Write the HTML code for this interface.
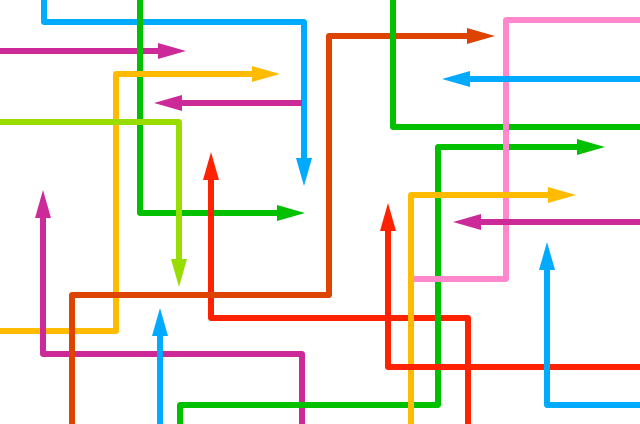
<!DOCTYPE html>
<html><head><meta charset="utf-8"><style>html,body{margin:0;padding:0;background:#fff}svg{display:block}</style></head>
<body>
<svg width="640" height="424" viewBox="0 0 640 424" xmlns="http://www.w3.org/2000/svg">
<g fill="none" stroke-width="6" stroke-linejoin="round">
<path d="M44,0 V22 H304 V158" stroke="#00aaff"/>
<path d="M0,51 H158" stroke="#cc2a99"/>
<path d="M140,0 V213 H277" stroke="#00c000"/>
<path d="M0,331 H116 V74 H252" stroke="#ffbb00"/>
<path d="M302,103 H182" stroke="#cc2a99"/>
<path d="M0,122 H179 V259" stroke="#99dd00"/>
<path d="M211,180 V318 H468 V424" stroke="#ff2200"/>
<path d="M43,218 V354 H302 V424" stroke="#cc2a99"/>
<path d="M72,424 V295 H329 V36 H467" stroke="#dd4400"/>
<path d="M160,424 V336" stroke="#00aaff"/>
<path d="M180,424 V405 H438 V147 H577" stroke="#00c000"/>
<path d="M393,0 V127 H640" stroke="#00c000"/>
<path d="M640,20 H506 V279 H409" stroke="#ff88cc"/>
<path d="M640,79 H470" stroke="#00aaff"/>
<path d="M411,424 V195 H548" stroke="#ffbb00"/>
<path d="M640,222 H481" stroke="#cc2a99"/>
<path d="M388,231 V367 H640" stroke="#ff2200"/>
<path d="M547,270 V405 H640" stroke="#00aaff"/>
</g>
<polygon points="296,158 312,158 304,186" fill="#00aaff"/>
<polygon points="158,43 158,59 186,51" fill="#cc2a99"/>
<polygon points="277,205 277,221 305,213" fill="#00c000"/>
<polygon points="252,66 252,82 280,74" fill="#ffbb00"/>
<polygon points="182,95 182,111 154,103" fill="#cc2a99"/>
<polygon points="171,259 187,259 179,287" fill="#99dd00"/>
<polygon points="203,180 219,180 211,152" fill="#ff2200"/>
<polygon points="35,218 51,218 43,190" fill="#cc2a99"/>
<polygon points="467,28 467,44 495,36" fill="#dd4400"/>
<polygon points="152,336 168,336 160,308" fill="#00aaff"/>
<polygon points="577,139 577,155 605,147" fill="#00c000"/>
<polygon points="470,71 470,87 442,79" fill="#00aaff"/>
<polygon points="548,187 548,203 576,195" fill="#ffbb00"/>
<polygon points="481,214 481,230 453,222" fill="#cc2a99"/>
<polygon points="380,231 396,231 388,203" fill="#ff2200"/>
<polygon points="539,270 555,270 547,242" fill="#00aaff"/>
</svg>
</body></html>
